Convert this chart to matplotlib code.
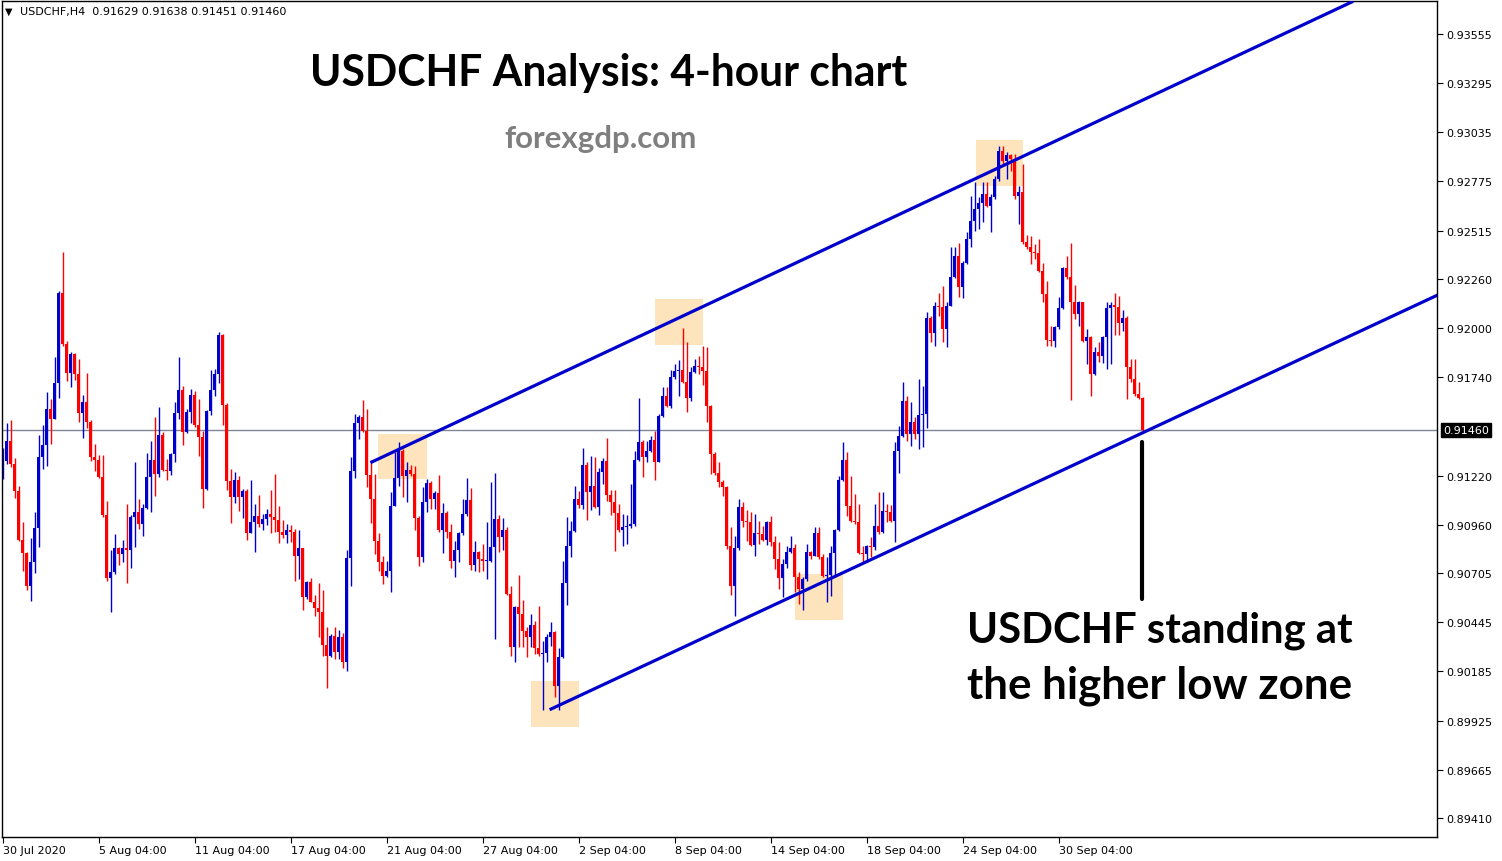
import numpy as np
import matplotlib.pyplot as plt
from matplotlib.patches import Rectangle

# USDCHF H4 candles, 30 Jul - 1 Oct 2020
first_open = 0.91255
closes = [
    0.91299, 0.91401, 0.91281, 0.91141, 0.90880, 0.90813, 0.90638, 0.90763, 0.90943, 0.91319,
    0.91382, 0.91572, 0.91519, 0.91710, 0.92186, 0.91916, 0.91764, 0.91863, 0.91759, 0.91551,
    0.91608, 0.91505, 0.91319, 0.91304, 0.91215, 0.91012, 0.90679, 0.90711, 0.90837, 0.90807,
    0.90837, 0.90827, 0.91003, 0.91028, 0.90966, 0.91047, 0.91213, 0.91304, 0.91229, 0.91435,
    0.91252, 0.91243, 0.91334, 0.91551, 0.91673, 0.91452, 0.91556, 0.91648, 0.91489, 0.91426,
    0.91151, 0.91562, 0.91673, 0.91759, 0.91963, 0.91595, 0.91193, 0.91109, 0.91197, 0.91109,
    0.91139, 0.90918, 0.90975, 0.91007, 0.90966, 0.90991, 0.91015, 0.91000, 0.90987, 0.90924,
    0.90908, 0.90934, 0.90924, 0.90797, 0.90837, 0.90580, 0.90658, 0.90554, 0.90522, 0.90497,
    0.90326, 0.90265, 0.90374, 0.90289, 0.90369, 0.90236, 0.90785, 0.91244, 0.91500, 0.91530,
    0.91454, 0.91225, 0.91098, 0.90876, 0.90762, 0.90691, 0.90718, 0.91061, 0.91208, 0.91352,
    0.91220, 0.91252, 0.91229, 0.90996, 0.90792, 0.91082, 0.91183, 0.91097, 0.91128, 0.90934,
    0.91021, 0.90920, 0.90771, 0.90829, 0.90917, 0.91017, 0.91093, 0.90749, 0.90818, 0.90779,
    0.90767, 0.90771, 0.90841, 0.90991, 0.90894, 0.90934, 0.90594, 0.90312, 0.90526, 0.90489,
    0.90400, 0.90365, 0.90430, 0.90307, 0.90277, 0.90280, 0.90365, 0.90392, 0.90110, 0.90259,
    0.90651, 0.90846, 0.90929, 0.91097, 0.91065, 0.91278, 0.91132, 0.91167, 0.91053, 0.91241,
    0.91299, 0.91119, 0.91082, 0.91021, 0.90933, 0.90947, 0.90956, 0.90964, 0.91303, 0.91396,
    0.91317, 0.91352, 0.91408, 0.91294, 0.91537, 0.91643, 0.91586, 0.91740, 0.91775, 0.91780,
    0.91713, 0.91629, 0.91770, 0.91801, 0.91793, 0.91775, 0.91586, 0.91333, 0.91234, 0.91185,
    0.91158, 0.90850, 0.90635, 0.90836, 0.91053, 0.90982, 0.90977, 0.90853, 0.90917, 0.90912,
    0.90882, 0.90977, 0.90867, 0.90779, 0.90677, 0.90753, 0.90818, 0.90836, 0.90682, 0.90621,
    0.90674, 0.90815, 0.90797, 0.90917, 0.90788, 0.90691, 0.90696, 0.90811, 0.90933, 0.91199,
    0.91303, 0.91061, 0.90982, 0.90975, 0.90811, 0.90805, 0.90850, 0.90841, 0.90952, 0.90920,
    0.91035, 0.91026, 0.90982, 0.91349, 0.91428, 0.91616, 0.91440, 0.91502, 0.91440, 0.91541,
    0.91546, 0.92052, 0.91974, 0.92115, 0.92110, 0.91995, 0.92119, 0.92268, 0.92383, 0.92216,
    0.92344, 0.92471, 0.92565, 0.92630, 0.92662, 0.92709, 0.92644, 0.92691, 0.92788, 0.92938,
    0.92885, 0.92915, 0.92894, 0.92700, 0.92718, 0.92454, 0.92427, 0.92401, 0.92397, 0.92304,
    0.92180, 0.91939, 0.91934, 0.92004, 0.92105, 0.92316, 0.92268, 0.92136, 0.92075, 0.92136,
    0.91934, 0.91951, 0.91757, 0.91872, 0.91854, 0.91951, 0.92105, 0.92122, 0.92110, 0.92025,
    0.92052, 0.91793, 0.91731, 0.91652, 0.91629, 0.91460]
highs = [
    0.91364, 0.91498, 0.91514, 0.91313, 0.91165, 0.90975, 0.90816, 0.90890, 0.91028, 0.91435,
    0.91488, 0.91660, 0.91625, 0.91849, 0.92194, 0.92401, 0.91934, 0.91875, 0.91868, 0.91837,
    0.91646, 0.91763, 0.91514, 0.91387, 0.91329, 0.91329, 0.91086, 0.90829, 0.90911, 0.90844,
    0.90880, 0.91070, 0.91010, 0.91292, 0.91096, 0.91070, 0.91340, 0.91403, 0.91530, 0.91583,
    0.91451, 0.91308, 0.91341, 0.91608, 0.91847, 0.91694, 0.91572, 0.91678, 0.91667, 0.91625,
    0.91458, 0.91565, 0.91780, 0.91785, 0.91981, 0.91969, 0.91606, 0.91257, 0.91239, 0.91220,
    0.91151, 0.91151, 0.91197, 0.91070, 0.91118, 0.91015, 0.91044, 0.91146, 0.91229, 0.91059,
    0.90987, 0.90964, 0.90959, 0.90940, 0.90933, 0.90837, 0.90663, 0.90679, 0.90589, 0.90652,
    0.90617, 0.90421, 0.90383, 0.90418, 0.90404, 0.90388, 0.90827, 0.91319, 0.91548, 0.91539,
    0.91620, 0.91572, 0.91303, 0.91229, 0.90915, 0.90797, 0.90771, 0.91132, 0.91343, 0.91396,
    0.91361, 0.91290, 0.91278, 0.91273, 0.91008, 0.91158, 0.91202, 0.91193, 0.91141, 0.91225,
    0.91075, 0.91033, 0.90964, 0.90876, 0.90920, 0.91097, 0.91206, 0.91155, 0.90876, 0.90823,
    0.90859, 0.90977, 0.91185, 0.91234, 0.91012, 0.90996, 0.90947, 0.90638, 0.90530, 0.90695,
    0.90563, 0.90418, 0.90489, 0.90453, 0.90533, 0.90348, 0.90383, 0.90448, 0.90400, 0.90307,
    0.90771, 0.91000, 0.90982, 0.91167, 0.91141, 0.91366, 0.91290, 0.91326, 0.91317, 0.91259,
    0.91312, 0.91419, 0.91146, 0.91146, 0.91070, 0.91017, 0.91012, 0.91176, 0.91352, 0.91631,
    0.91410, 0.91405, 0.91431, 0.91458, 0.91546, 0.91687, 0.91687, 0.91779, 0.91810, 0.91833,
    0.91999, 0.91925, 0.91793, 0.91837, 0.91854, 0.91904, 0.91898, 0.91594, 0.91343, 0.91290,
    0.91197, 0.91165, 0.90950, 0.90899, 0.91097, 0.91079, 0.91040, 0.91026, 0.91017, 0.90982,
    0.90956, 0.90982, 0.91008, 0.90903, 0.90870, 0.90779, 0.90850, 0.90899, 0.90859, 0.90709,
    0.90682, 0.90859, 0.90823, 0.90947, 0.90947, 0.90806, 0.90788, 0.90850, 0.90938, 0.91220,
    0.91396, 0.91347, 0.91220, 0.91123, 0.91070, 0.90850, 0.90855, 0.90894, 0.91070, 0.91132,
    0.91135, 0.91070, 0.91065, 0.91396, 0.91484, 0.91713, 0.91643, 0.91608, 0.91528, 0.91731,
    0.91696, 0.92083, 0.92066, 0.92136, 0.92186, 0.92224, 0.92136, 0.92427, 0.92427, 0.92450,
    0.92357, 0.92506, 0.92697, 0.92771, 0.92691, 0.92771, 0.92771, 0.92709, 0.92806, 0.92965,
    0.92965, 0.92929, 0.92921, 0.92921, 0.92753, 0.92868, 0.92492, 0.92489, 0.92445, 0.92471,
    0.92344, 0.92251, 0.92013, 0.92013, 0.92163, 0.92321, 0.92383, 0.92450, 0.92228, 0.92145,
    0.92140, 0.91995, 0.91960, 0.91900, 0.91925, 0.91960, 0.92136, 0.92140, 0.92186, 0.92168,
    0.92098, 0.92066, 0.91837, 0.91837, 0.91713, 0.91638]
lows = [
    0.91202, 0.91281, 0.91267, 0.91102, 0.90875, 0.90718, 0.90617, 0.90559, 0.90707, 0.90844,
    0.91255, 0.91273, 0.91387, 0.91519, 0.91630, 0.91907, 0.91722, 0.91690, 0.91727, 0.91505,
    0.91419, 0.91473, 0.91299, 0.91246, 0.91209, 0.91003, 0.90661, 0.90501, 0.90702, 0.90749,
    0.90765, 0.90654, 0.90732, 0.90844, 0.90938, 0.90903, 0.91045, 0.91029, 0.91114, 0.91211,
    0.91243, 0.91199, 0.91225, 0.91290, 0.91518, 0.91384, 0.91445, 0.91496, 0.91479, 0.91325,
    0.91051, 0.91146, 0.91540, 0.91643, 0.91710, 0.91489, 0.91146, 0.90971, 0.91075, 0.91035,
    0.90998, 0.90881, 0.90918, 0.90818, 0.90950, 0.90934, 0.90961, 0.90915, 0.90922, 0.90866,
    0.90890, 0.90862, 0.90871, 0.90665, 0.90675, 0.90511, 0.90568, 0.90550, 0.90476, 0.90369,
    0.90266, 0.90095, 0.90260, 0.90252, 0.90251, 0.90201, 0.90189, 0.90638, 0.91207, 0.91414,
    0.91449, 0.91162, 0.90971, 0.90804, 0.90718, 0.90647, 0.90682, 0.90607, 0.91057, 0.91167,
    0.91105, 0.91082, 0.91220, 0.90934, 0.90744, 0.90765, 0.91030, 0.91044, 0.91044, 0.90920,
    0.90811, 0.90889, 0.90730, 0.90686, 0.90762, 0.90906, 0.91008, 0.90723, 0.90718, 0.90712,
    0.90718, 0.90674, 0.90762, 0.90356, 0.90818, 0.90829, 0.90589, 0.90268, 0.90237, 0.90312,
    0.90312, 0.90259, 0.90312, 0.90277, 0.90268, 0.89983, 0.90233, 0.90321, 0.90052, 0.89983,
    0.90256, 0.90536, 0.90788, 0.90920, 0.91047, 0.91044, 0.90987, 0.91040, 0.91047, 0.91012,
    0.91176, 0.91088, 0.91012, 0.90823, 0.90924, 0.90850, 0.90859, 0.90941, 0.90956, 0.91299,
    0.91211, 0.91290, 0.91343, 0.91197, 0.91294, 0.91528, 0.91581, 0.91580, 0.91731, 0.91643,
    0.91710, 0.91558, 0.91616, 0.91763, 0.91757, 0.91699, 0.91502, 0.91229, 0.91223, 0.91158,
    0.91114, 0.90832, 0.90589, 0.90480, 0.90829, 0.90947, 0.90876, 0.90850, 0.90793, 0.90859,
    0.90876, 0.90853, 0.90850, 0.90727, 0.90621, 0.90577, 0.90730, 0.90811, 0.90603, 0.90541,
    0.90512, 0.90665, 0.90779, 0.90793, 0.90779, 0.90682, 0.90550, 0.90586, 0.90682, 0.90929,
    0.91194, 0.91008, 0.90973, 0.90964, 0.90806, 0.90762, 0.90762, 0.90788, 0.90829, 0.90912,
    0.90917, 0.90973, 0.90973, 0.90867, 0.91234, 0.91422, 0.91405, 0.91379, 0.91414, 0.91361,
    0.91370, 0.91470, 0.91925, 0.91904, 0.92066, 0.91925, 0.91898, 0.92115, 0.92263, 0.92163,
    0.92158, 0.92339, 0.92427, 0.92515, 0.92524, 0.92563, 0.92639, 0.92506, 0.92683, 0.92780,
    0.92859, 0.92788, 0.92832, 0.92683, 0.92550, 0.92445, 0.92418, 0.92339, 0.92365, 0.92295,
    0.92140, 0.91907, 0.91907, 0.91898, 0.91995, 0.92101, 0.92260, 0.91622, 0.92048, 0.92013,
    0.91925, 0.91810, 0.91643, 0.91750, 0.91819, 0.91816, 0.91784, 0.91810, 0.91964, 0.91964,
    0.91987, 0.91625, 0.91713, 0.91643, 0.91625, 0.91451]
opens = [first_open] + closes[:-1]   # forex bars open at the previous close

# x axis: bar number of each date label
date_ticks = [0, 24, 48, 72, 96, 120, 144, 168, 192, 216, 240, 264]
date_labels = ['30 Jul 2020', '5 Aug 04:00', '11 Aug 04:00', '17 Aug 04:00',
               '21 Aug 04:00', '27 Aug 04:00', '2 Sep 04:00', '8 Sep 04:00',
               '14 Sep 04:00', '18 Sep 04:00', '24 Sep 04:00', '30 Sep 04:00']
price_ticks = [0.93555, 0.93295, 0.93035, 0.92775, 0.92515, 0.92260, 0.92000, 0.91740,
               0.91220, 0.90960, 0.90705, 0.90445, 0.90185, 0.89925, 0.89665, 0.89410]
last_price = 0.91460

# highlighted swing points: (first bar, last bar, low, high)
zones = [(93.8, 106.1, 0.91202, 0.91440),
         (163.1, 175.1, 0.91911, 0.92154),
         (243.3, 255.1, 0.92751, 0.92995),
         (198.1, 210.1, 0.90457, 0.90700),
         (132.1, 144.1, 0.89891, 0.90134)]
# channel lines: two anchor points each (bar, price)
upper_x, upper_y = [92.3, 337.3], [0.91292, 0.93724]
lower_x, lower_y = [137.1, 358.8], [0.89986, 0.92175]
pointer_x, pointer_y = 284.8, (0.91398, 0.90568)

BLUE = '#0000CD'
RED = '#FF0000'

fig = plt.figure(figsize=(15.02, 8.62), dpi=100)
ax = fig.add_axes([2/1502, 24/862, 1435/1502, 836/862])
ax.set_xlim(-0.175, 358.6)
ax.set_ylim(0.893095, 0.93729)

for x0, x1, lo, hi in zones:
    ax.add_patch(Rectangle((x0, lo), x1 - x0, hi - lo, facecolor='#FDE4BC',
                           edgecolor='none', zorder=0))

ax.axhline(last_price, color='#7F8796', lw=1, zorder=1)

o = np.array(opens)
c = np.array(closes)
x = np.arange(len(c))
cols = np.where(c >= o, BLUE, RED)
ax.vlines(x, lows, highs, colors=cols, lw=1.0, zorder=2)
body = np.maximum(np.abs(c - o), 0.00005)
ax.bar(x, body, bottom=np.minimum(o, c), width=0.8, color=cols, linewidth=0, zorder=2)

ax.plot(upper_x, upper_y, color=BLUE, lw=2.3, zorder=3)
ax.plot(lower_x, lower_y, color=BLUE, lw=2.3, zorder=3)
ax.plot([pointer_x, pointer_x], pointer_y, color='black', lw=3, solid_capstyle='round', zorder=3)

# axes like the MT4 window
for s in ax.spines.values():
    s.set_color('black')
    s.set_linewidth(1)
ax.yaxis.tick_right()
ax.set_yticks(price_ticks)
ax.set_yticklabels(['%.5f' % p for p in price_ticks])
ax.set_xticks(date_ticks)
ax.set_xticklabels(date_labels, ha='left')
ax.tick_params(axis='y', direction='out', length=4, width=0.8, pad=3, labelsize=8)
ax.tick_params(axis='x', direction='out', length=4, width=0.8, pad=2, labelsize=8)

ax.text(1 + 6/1435, last_price, '%.5f' % last_price, transform=ax.get_yaxis_transform(),
        ha='left', va='center', color='white', fontsize=8, zorder=5, clip_on=False,
        bbox=dict(boxstyle='square,pad=0.2', facecolor='black', edgecolor='black'))

fig.text(5/1502, 1 - 12/862, '\u25bc', fontsize=7, va='center', ha='left')
fig.text(20/1502, 1 - 12/862, 'USDCHF,H4  0.91629 0.91638 0.91451 0.91460',
         fontsize=8, va='center', ha='left')

fig.text(310/1502, 1 - 86/862, 'USDCHF Analysis: 4-hour chart', family='Lato',
         fontweight='bold', fontsize=30.7, ha='left', va='baseline')
fig.text(601/1502, 1 - 148/862, 'forexgdp.com', family='Lato', fontweight='bold',
         fontsize=22.5, color='#7F7F7F', ha='center', va='baseline')
fig.text(967/1502, 1 - 642/862, 'USDCHF standing at', family='Lato',
         fontweight='bold', fontsize=30.2, ha='left', va='baseline')
fig.text(967/1502, 1 - 699/862, 'the higher low zone', family='Lato',
         fontweight='bold', fontsize=31.6, ha='left', va='baseline')

fig.savefig('out.png', dpi=100)
